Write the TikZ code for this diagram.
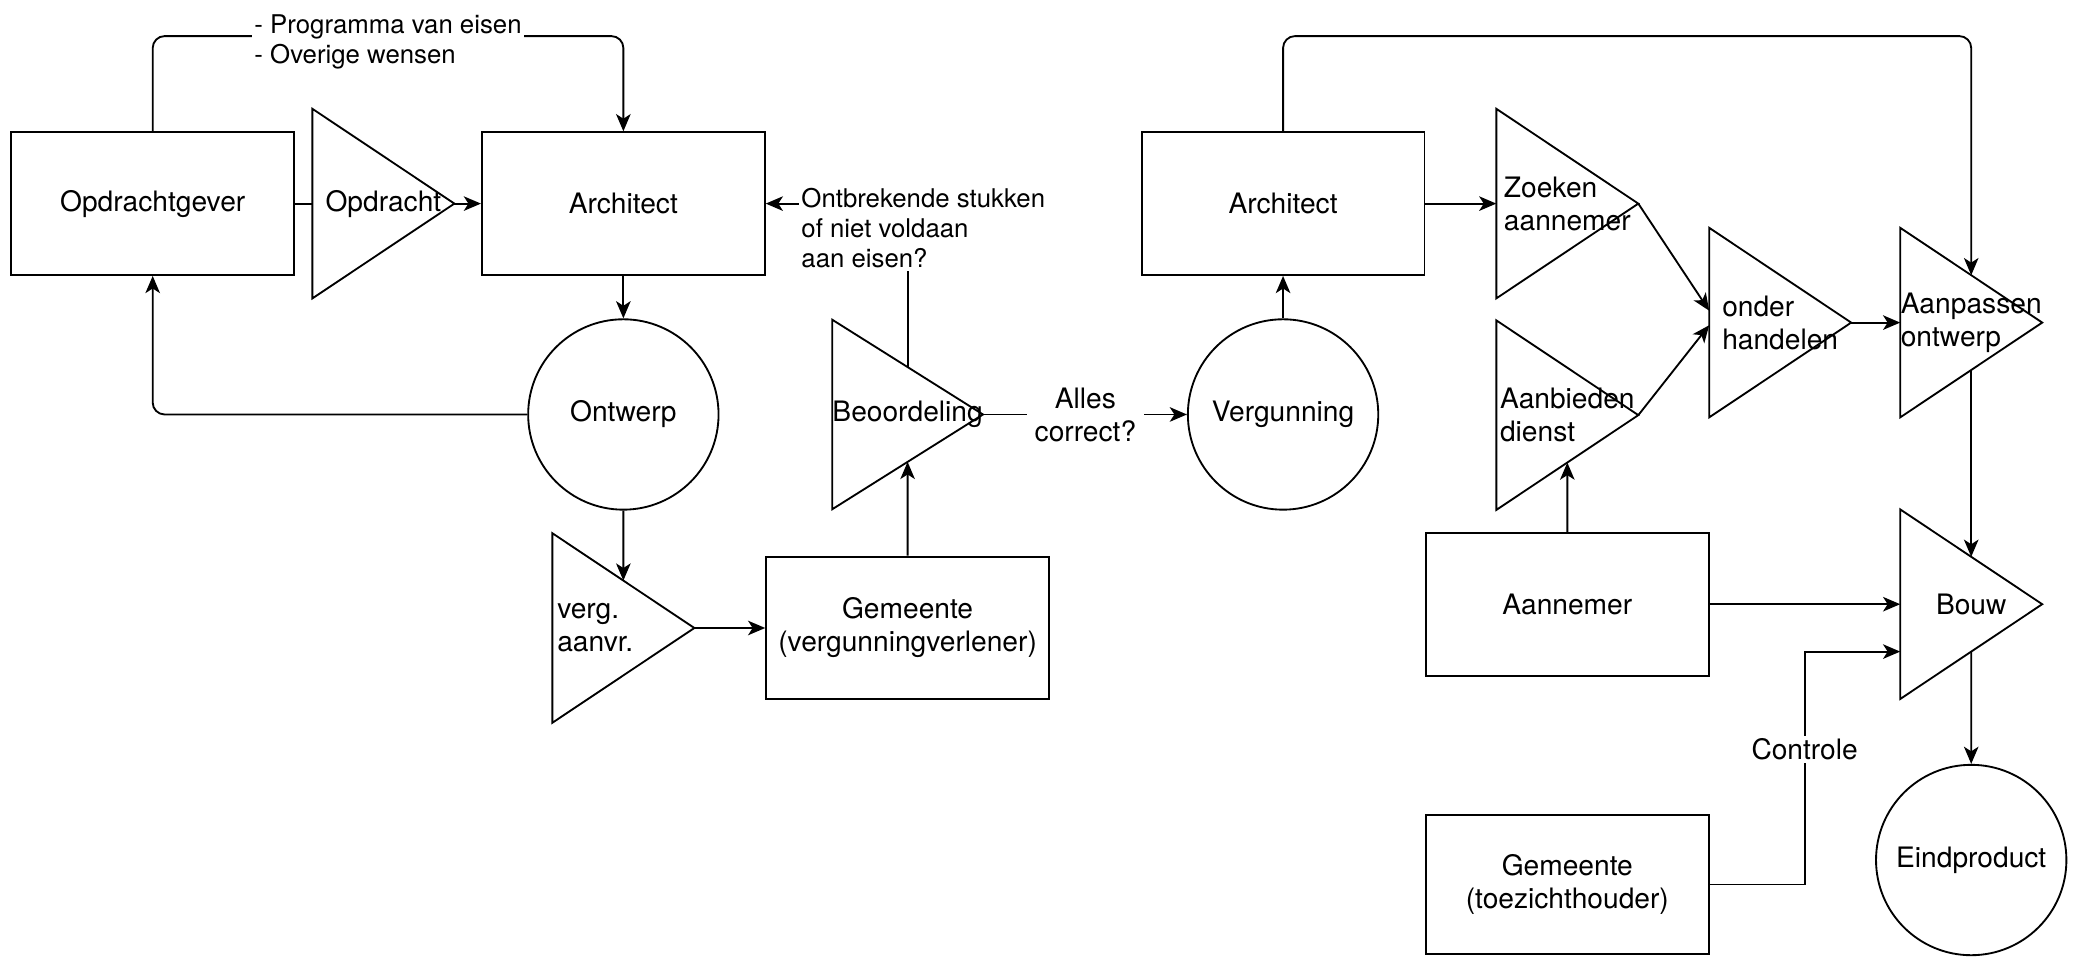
\documentclass[tikz,border=0pt]{standalone}
\usepackage{fontspec}
\setmainfont{TeX Gyre Heros}
\usetikzlibrary{arrows.meta,calc}
\newcommand\nodetxt{\fontsize{21.3}{25}\selectfont}
\newcommand\edgetxt{\fontsize{19.5}{22.8}\selectfont}
\begin{document}
\begin{tikzpicture}[x=1pt,y=-1pt,
  line/.style={line width=1.4pt, black},
  arr/.style={line, -{Stealth[length=13pt,width=11pt,inset=3.5pt]}},
  box/.style={draw, line width=1.4pt, minimum width=214pt, minimum height=108pt, inner sep=0pt, font=\nodetxt, align=center},
  disc/.style={draw, circle, line width=1.4pt, minimum size=144pt, inner sep=0pt, font=\nodetxt},
  tribox/.style={minimum width=107pt, minimum height=143pt, inner sep=0pt, font=\nodetxt, align=left},
  lbl/.style={fill=white, inner sep=2pt, font=\edgetxt, align=left},
]
\useasboundingbox (0,0) rectangle (1568,724);

% boxes, discs and triangle frames
\node[box] (og) at (115.5,154) {Opdrachtgever};
\node[tribox] (opd) at (290,154) {Opdracht};
\node[box] (archA) at (471.5,154) {Architect};
\node[disc] (ontw) at (471.5,313.5) {Ontwerp};
\node[tribox, text width=100pt] (verg) at (471.5,475) {verg.\\aanvr.};
\node[box] (gemV) at (686.5,475) {Gemeente\\(vergunningverlener)};
\node[tribox] (beo) at (686.5,313.5) {Beoordeling};
\node[disc] (vgn) at (970.5,313.5) {Vergunning};
\node[box] (archB) at (970.5,154) {Architect};
\node[tribox] (zoek) at (1185.5,154) {Zoeken\\aannemer};
\node[tribox] (aanb) at (1185.5,314) {Aanbieden\\dienst};
\node[box] (aann) at (1185.5,457) {Aannemer};
\node[box, minimum height=105pt] (gemT) at (1185.5,669) {Gemeente\\(toezichthouder)};
\node[tribox] (ond) at (1346.5,244) {onder\\handelen};
\node[tribox] (aanp) at (1491,244) {Aanpassen\\ontwerp};
\node[tribox] (bouw) at (1491,457) {Bouw};
\node[disc] (eind) at (1491,650.5) {Eindproduct};

% triangles pointing right, apex at the east anchor
\foreach \t in {opd,verg,beo,zoek,aanb,ond,aanp,bouw}
  \draw[line, line join=miter] (\t.north west) -- (\t.east) -- (\t.south west) -- cycle;

% midpoints of the upper and lower slopes
\foreach \t in {verg,beo,aanb,aanp,bouw} {
  \coordinate (\t-up) at ($(\t.north west)!0.5!(\t.east)$);
  \coordinate (\t-lo) at ($(\t.south west)!0.5!(\t.east)$);
}
\coordinate (bouw-in) at ($(bouw.north west)!0.75!(bouw.south west)$);

% connectors
\draw[arr, rounded corners=9pt] (og.north) -- ++(0,-72) -| (archA.north);
\node[lbl] (pve) at (293.5,32) {- Programma van eisen\\- Overige wensen};
\draw[line] (og.east) -- (opd.west);
\draw[arr] (opd.east) -- (archA.west);
\draw[arr] (archA.south) -- (ontw.north);
\draw[arr, rounded corners=9pt] (ontw.west) -| (og.south);
\draw[arr] (ontw.south) -- (verg-up);
\draw[arr] (verg.east) -- (gemV.west);
\draw[arr] (gemV.north) -- (beo-lo);
\draw[arr] (beo-up) |- (archA.east);
\node[lbl, anchor=west] (ontbr) at (604,172.5) {Ontbrekende stukken\\of niet voldaan\\aan eisen?};
\draw[arr] (beo.east) -- (vgn.west);
\node[lbl, font=\nodetxt, align=center, inner xsep=6pt] (alles) at (821,313.5) {Alles\\correct?};
\draw[arr] (vgn.north) -- (archB.south);
\draw[arr, rounded corners=9pt] (archB.north) -- ++(0,-72) -| (aanp-up);
\draw[arr] (archB.east) -- (zoek.west);
\draw[arr] (zoek.east) -- ($(ond.west)+(0,-9)$);
\draw[arr] (aanb.east) -- ($(ond.west)+(0,2)$);
\draw[arr] (aann.north) -- (aanb-lo);
\draw[arr] (ond.east) -- (aanp.west);
\draw[arr] (aanp-lo) -- (bouw-up);
\draw[arr] (aann.east) -- (bouw.west);
\draw[arr] (gemT.east) -- ++(72,0) |- (bouw-in);
\node[lbl, font=\nodetxt] (ctrl) at (1365,567) {Controle};
\draw[arr] (bouw-lo) -- (eind.north);
\end{tikzpicture}
\end{document}
